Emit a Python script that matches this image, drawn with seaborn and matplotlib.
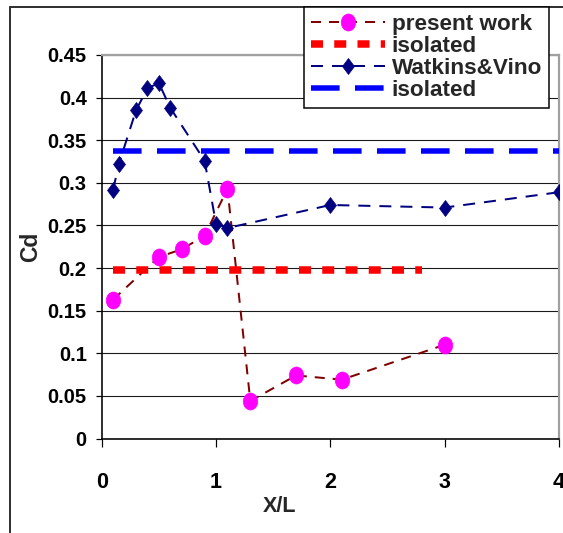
import matplotlib
matplotlib.use("Agg")
import matplotlib.pyplot as plt
import seaborn as sns
import numpy as np
from matplotlib.path import Path
from matplotlib.lines import Line2D

# ---- data ----
present_x = [0.1, 0.5, 0.7, 0.9, 1.1, 1.3, 1.7, 2.1, 3.0]
present_cd = [0.163, 0.213, 0.222, 0.238, 0.293, 0.044, 0.074, 0.069, 0.110]
iso_present_x = [0.1, 2.8]
iso_present_cd = [0.198, 0.198]
watkins_x = [0.1, 0.15, 0.3, 0.4, 0.5, 0.6, 0.9, 1.0, 1.1, 2.0, 3.0, 4.0]
watkins_cd = [0.292, 0.322, 0.385, 0.411, 0.417, 0.388, 0.326, 0.252, 0.247, 0.274, 0.271, 0.289]
iso_watkins_x = [0.1, 4.0]
iso_watkins_cd = [0.337, 0.337]
series_labels = ["present work", "isolated", "Watkins&Vino", "isolated"]
x_ticks = [0, 1, 2, 3, 4]
x_tick_labels = ["0", "1", "2", "3", "4"]
y_ticks = [0, 0.05, 0.1, 0.15, 0.2, 0.25, 0.3, 0.35, 0.4, 0.45]
y_tick_labels = ["0", "0.05", "0.1", "0.15", "0.2", "0.25", "0.3", "0.35", "0.4", "0.45"]

PX = 72 / 100.0  # points per pixel

sns.set_style("white")
plt.rcParams['font.family'] = ['Liberation Sans', 'DejaVu Sans']
plt.rcParams['font.weight'] = 'bold'

W, H = 563, 533
fig = plt.figure(figsize=(W / 100, H / 100), dpi=100)
ax_l, ax_r, ax_t, ax_b = 101.7, 559.0, 55.0, 438.5
ax = fig.add_axes([ax_l / W, 1 - ax_b / H, (ax_r - ax_l) / W, (ax_b - ax_t) / H])

# marker shapes
circ = Path.unit_circle()
ellipse = Path(circ.vertices * np.array([0.85, 1.0]), circ.codes)
diamond = Path([(0, 1), (0.75, 0), (0, -1), (-0.75, 0), (0, 1)],
               [Path.MOVETO, Path.LINETO, Path.LINETO, Path.LINETO, Path.CLOSEPOLY])

handles = []

# present work
sns.lineplot(x=present_x, y=present_cd, ax=ax, sort=False, errorbar=None,
             color='#800000', linewidth=2 * PX, zorder=3)
l1 = ax.lines[-1]
l1.set_dashes((5, 4))
l1.set_marker(ellipse)
l1.set_markersize(17 * PX)
l1.set_markerfacecolor('#FF00FF')
l1.set_markeredgecolor('#FF00FF')
l1.set_markeredgewidth(0.5)
handles.append(l1)

# isolated (red)
sns.lineplot(x=iso_present_x, y=iso_present_cd, ax=ax, sort=False, errorbar=None,
             color='#FF0000', linewidth=7.5 * PX, zorder=4)
l2 = ax.lines[-1]
l2.set_dashes((1.6, 1.5))
l2.set_dash_capstyle('butt')
handles.append(l2)

# Watkins & Vino
sns.lineplot(x=watkins_x, y=watkins_cd, ax=ax, sort=False, errorbar=None,
             color='#000080', linewidth=2 * PX, zorder=5)
l3 = ax.lines[-1]
l3.set_dashes((6, 4.5))
l3.set_marker(diamond)
l3.set_markersize(16 * PX)
l3.set_markerfacecolor('#000080')
l3.set_markeredgecolor('#000080')
l3.set_markeredgewidth(0.5)
handles.append(l3)

# isolated (blue)
sns.lineplot(x=iso_watkins_x, y=iso_watkins_cd, ax=ax, sort=False, errorbar=None,
             color='#0000FF', linewidth=5.5 * PX, zorder=6)
l4 = ax.lines[-1]
l4.set_dashes((5.2, 2.8))
l4.set_dash_capstyle('butt')
handles.append(l4)

# axes
ax.set_xlim(0, 4)
ax.set_ylim(0, 0.45)
ax.set_xticks(x_ticks)
ax.set_xticklabels(x_tick_labels)
ax.set_yticks(y_ticks)
ax.set_yticklabels(y_tick_labels)
ax.tick_params(axis='y', direction='out', length=6 * PX, width=1.2 * PX, pad=9 * PX,
               labelsize=14.5, left=True, colors='black')
ax.tick_params(axis='x', direction='out', length=8 * PX, width=1.2 * PX, pad=25 * PX,
               labelsize=15.5, bottom=True, colors='black')
ax.yaxis.grid(True, color='#1a1a1a', linewidth=1.1 * PX)
ax.xaxis.grid(False)
ax.set_axisbelow(True)
for s in ['left', 'bottom']:
    ax.spines[s].set_color('black')
    ax.spines[s].set_linewidth(1.6 * PX)
for s in ['top', 'right']:
    ax.spines[s].set_color('#a0a0a0')
    ax.spines[s].set_linewidth(2.2 * PX)

ax.set_xlabel("X/L", fontsize=15.5, fontweight='bold')
ax.xaxis.set_label_coords((280 - ax_l) / (ax_r - ax_l), -(496 - ax_b) / (ax_b - ax_t))
ax.set_ylabel("Cd", fontsize=16.5, fontweight='bold')
ax.yaxis.set_label_coords((42 - ax_l) / (ax_r - ax_l), (ax_b - 247) / (ax_b - ax_t))

# figure border (left & top visible)
fig.add_artist(Line2D([9.7 / W, 9.7 / W], [0, 1 - 7 / H], transform=fig.transFigure,
                      color='#333333', linewidth=2 * PX))
fig.add_artist(Line2D([9.7 / W, 1], [1 - 7 / H, 1 - 7 / H], transform=fig.transFigure,
                      color='#333333', linewidth=2 * PX))

leg = fig.legend(handles, series_labels, loc='upper left',
                 bbox_to_anchor=(304 / W, 1 - 7 / H), borderaxespad=0,
                 frameon=True, fancybox=False, edgecolor='black', framealpha=1,
                 fontsize=16.2, handlelength=3.3, handletextpad=0.3,
                 labelspacing=0.05, borderpad=0.3, numpoints=1)
leg.get_frame().set_linewidth(1.5 * PX)

fig.savefig("out.png", dpi=100)
